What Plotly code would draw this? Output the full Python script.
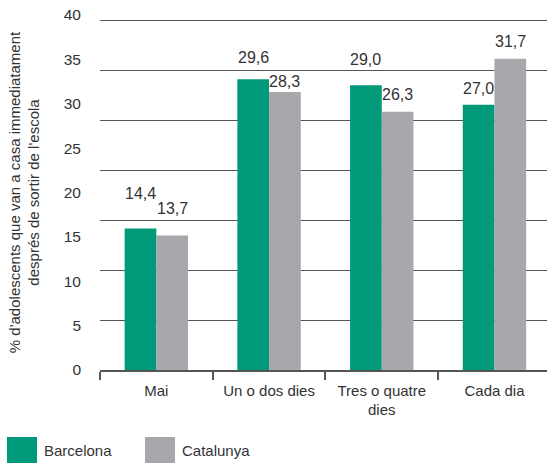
import plotly.graph_objects as go

# ---- DATA ----
categories = ["Mai", "Un o dos dies", "Tres o quatre<br>dies", "Cada dia"]
series_names = ["Barcelona", "Catalunya"]
barcelona = [14.4, 29.6, 29.0, 27.0]
catalunya = [13.7, 28.3, 26.3, 31.7]
y_ticks = [0, 5, 10, 15, 20, 25, 30, 35, 40]

# ---- STYLE ----
W, H = 547, 463
ML, MR, MT, MB = 100, 0, 15, 93
FONT = "Liberation Sans"
TXT = "#333333"
GRID = "#555555"
colors = ["#00997a", "#a7a8ab"]
bargap = 0.4375
x_range = [-0.5, 3.466]
bar_range = [0, 36.15]      # bars drawn on this scale
grid_step = 5.085           # gridlines of the original are not at label values
label_range = [0, 40]       # tick labels of the original run 0-40 over the plot height
# vertical offset (px) of each value label above its bar top, as in the original
label_lift = [[35, 22, 26, 16], [27, 11, 17, 17]]

plot_w = W - ML - MR
plot_h = H - MT - MB


def px_x(px):
    return (px - ML) / plot_w


def px_y(py):
    return (H - MB - py) / plot_h


fig = go.Figure()
for name, vals, col in zip(series_names, [barcelona, catalunya], colors):
    fig.add_trace(go.Bar(
        x=categories, y=vals, name=name,
        marker=dict(color=col, line=dict(width=0)),
        showlegend=False, hoverinfo="x+y+name",
    ))

# dummy trace so the label axis is drawn
fig.add_trace(go.Scatter(x=[], y=[], yaxis="y2", showlegend=False, hoverinfo="skip"))

# value labels above each bar
bar_w = (1 - bargap) / 2
annotations = []
for s, vals in enumerate([barcelona, catalunya]):
    off = (s - 0.5) * bar_w
    for i, v in enumerate(vals):
        annotations.append(dict(
            x=i + off, y=v, xref="x", yref="y",
            text=f"{v:.1f}".replace(".", ","),
            showarrow=False, yanchor="middle", xanchor="center",
            yshift=label_lift[s][i],
            font=dict(family=FONT, size=16, color=TXT),
        ))

# custom legend with large swatches
shapes = []
legend_x = [7, 145]
for name, col, lx in zip(series_names, colors, legend_x):
    shapes.append(dict(
        type="rect", xref="paper", yref="paper",
        x0=px_x(lx), x1=px_x(lx + 30), y0=px_y(468), y1=px_y(437),
        fillcolor=col, line=dict(width=0), layer="above",
    ))
    annotations.append(dict(
        x=px_x(lx + 35), y=px_y(451), xref="paper", yref="paper",
        text=name, showarrow=False, xanchor="left", yanchor="middle",
        font=dict(family=FONT, size=15, color=TXT),
    ))

fig.update_layout(
    width=W, height=H,
    margin=dict(l=ML, r=MR, t=MT, b=MB, autoexpand=False),
    paper_bgcolor="white", plot_bgcolor="white",
    barmode="group", bargap=bargap, bargroupgap=0,
    font=dict(family=FONT, size=15, color=TXT),
    xaxis=dict(
        type="category", categoryorder="array", categoryarray=categories,
        range=x_range, showgrid=False, zeroline=False, automargin=False,
        showline=True, linecolor=GRID, linewidth=1.5,
        ticks="outside", ticklen=8, tickwidth=1.5, tickcolor=GRID,
        tickson="boundaries", ticklabelstandoff=6,
        tickfont=dict(family=FONT, size=15, color=TXT),
    ),
    yaxis=dict(
        range=bar_range, tick0=0, dtick=grid_step, automargin=False,
        showgrid=True, gridcolor=GRID, gridwidth=1.3,
        zeroline=False, showticklabels=False, ticks="",
    ),
    yaxis2=dict(
        overlaying="y", side="left", range=label_range, automargin=False,
        tickmode="array", tickvals=y_ticks, ticktext=[str(t) for t in y_ticks],
        showgrid=False, zeroline=False, showline=False, ticks="",
        ticklabelstandoff=18,
        tickfont=dict(family=FONT, size=15.5, color=TXT),
        title=dict(
            text="% d'adolescents que van a casa immediatament<br>després de sortir de l'escola",
            font=dict(family=FONT, size=15, color=TXT),
            standoff=20,
        ),
    ),
    annotations=annotations,
    shapes=shapes,
)

fig.write_html("out.html", config={"displayModeBar": False},
               post_script="document.body.style.margin='0';")
